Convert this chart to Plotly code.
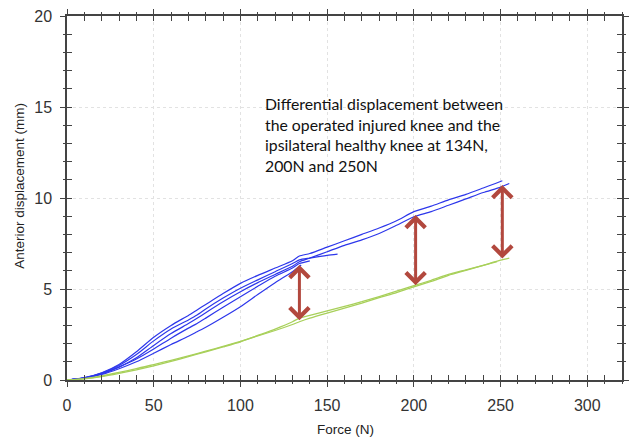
import plotly.graph_objects as go

# ---------------- data ----------------
# Blue curves: operated injured knee (several trials)
b1_force = [0, 10, 20, 30, 40, 50, 60, 70, 75, 80, 90, 100, 110, 120, 130, 134, 140, 150, 160, 170, 180, 190, 200, 210, 220, 230, 240, 247, 251]
b1_disp = [0, 0.13, 0.4, 0.85, 1.55, 2.35, 3.0, 3.55, 3.85, 4.15, 4.75, 5.31, 5.75, 6.15, 6.55, 6.81, 6.95, 7.3, 7.65, 8.0, 8.35, 8.75, 9.25, 9.55, 9.9, 10.2, 10.55, 10.8, 10.95]

b2_force = [0, 10, 20, 30, 40, 50, 60, 70, 75, 80, 90, 100, 110, 120, 130, 134, 140, 150, 160, 170, 180, 190, 200, 210, 220, 230, 240, 250, 255]
b2_disp = [0, 0.1, 0.33, 0.7, 1.22, 1.9, 2.55, 3.1, 3.39, 3.7, 4.3, 4.85, 5.35, 5.8, 6.25, 6.5, 6.7, 7.05, 7.4, 7.7, 8.05, 8.5, 8.97, 9.25, 9.6, 9.95, 10.3, 10.6, 10.8]

b3_force = [0, 10, 20, 30, 40, 50, 60, 70, 75, 80, 90, 100, 110, 120, 130, 134, 140, 150, 156]
b3_disp = [0, 0.12, 0.38, 0.8, 1.4, 2.15, 2.8, 3.3, 3.57, 3.9, 4.5, 5.04, 5.5, 5.95, 6.4, 6.6, 6.7, 6.85, 6.92]

b4_force = [0, 10, 20, 30, 40, 50, 60, 70, 75, 80, 90, 100, 110, 120, 130, 134, 140]
b4_disp = [0, 0.11, 0.35, 0.72, 1.15, 1.7, 2.3, 2.85, 3.11, 3.4, 4.0, 4.58, 5.15, 5.7, 6.15, 6.4, 6.55]

b5_force = [0, 10, 20, 30, 40, 50, 60, 70, 75, 80, 90, 100, 110, 120, 130, 135]
b5_disp = [0, 0.1, 0.3, 0.62, 1.0, 1.47, 1.95, 2.4, 2.65, 2.9, 3.45, 4.03, 4.7, 5.35, 5.95, 6.32]

# Green curves: ipsilateral healthy knee
g1_force = [0, 10, 20, 30, 40, 50, 60, 70, 80, 90, 100, 110, 120, 130, 134, 140, 150, 160, 170, 180, 190, 200, 210, 220, 230, 240, 250, 255]
g1_disp = [0, 0.08, 0.22, 0.42, 0.62, 0.85, 1.08, 1.33, 1.58, 1.85, 2.12, 2.42, 2.72, 3.05, 3.2, 3.4, 3.68, 3.95, 4.22, 4.52, 4.8, 5.12, 5.42, 5.75, 6.02, 6.3, 6.58, 6.69]

g2_force = [0, 10, 20, 30, 40, 50, 60, 70, 80, 90, 100, 110, 120, 130, 134, 140, 150, 160, 170, 180, 190, 200, 210, 220, 230, 240, 248]
g2_disp = [0, 0.06, 0.18, 0.36, 0.56, 0.78, 1.02, 1.28, 1.55, 1.82, 2.1, 2.45, 2.8, 3.2, 3.4, 3.55, 3.8, 4.05, 4.3, 4.58, 4.88, 5.18, 5.48, 5.8, 6.05, 6.3, 6.5]

# Differential arrows (force, bottom displacement, top displacement)
arrow_force = [134, 201, 251]
arrow_low = [3.2, 5.13, 6.59]
arrow_high = [6.32, 9.07, 10.71]

x_ticks = [0, 50, 100, 150, 200, 250, 300]
y_ticks = [0, 5, 10, 15, 20]

x_title = "Force (N)"
y_title = "Anterior displacement (mm)"
note_text = ("Differential displacement between<br>the operated injured knee and the<br>"
             "ipsilateral healthy knee at 134N,<br>200N and 250N")

BLUE = "rgb(45,55,235)"
GREEN = "rgb(168,208,90)"
ARROW = "rgb(178,72,62)"
AXC = "#444"

fig = go.Figure()
for fx, dy in [(b1_force, b1_disp), (b2_force, b2_disp), (b3_force, b3_disp),
               (b4_force, b4_disp), (b5_force, b5_disp)]:
    fig.add_trace(go.Scatter(x=fx, y=dy, mode="lines", line=dict(color=BLUE, width=1.2, shape="spline", smoothing=0.6),
                             showlegend=False, hoverinfo="skip"))
for fx, dy in [(g1_force, g1_disp), (g2_force, g2_disp)]:
    fig.add_trace(go.Scatter(x=fx, y=dy, mode="lines", line=dict(color=GREEN, width=1.3, shape="spline", smoothing=0.6),
                             showlegend=False, hoverinfo="skip"))
# invisible trace so the overlay axes (inside tick marks) are drawn
fig.add_trace(go.Scatter(x=[0], y=[0], xaxis="x2", yaxis="y2", mode="markers",
                         marker=dict(opacity=0), showlegend=False, hoverinfo="skip"))

for f, lo, hi in zip(arrow_force, arrow_low, arrow_high):
    fig.add_annotation(x=f, y=hi, ax=f, ay=lo, xref="x", yref="y", axref="x", ayref="y",
                       text="", showarrow=True, arrowhead=4, arrowside="end+start",
                       arrowsize=1.25, arrowwidth=3, arrowcolor=ARROW)

fig.add_annotation(x=113, y=15.85, xref="x", yref="y", xanchor="left", yanchor="top",
                   text=note_text, showarrow=False, align="left",
                   font=dict(family="Lato", size=15.8, color="#111"))

# axis titles
fig.add_annotation(x=0.501, y=-0.137, xref="paper", yref="paper", xanchor="center", yanchor="middle",
                   text=x_title, showarrow=False,
                   font=dict(family="Liberation Sans", size=13.5, color="#222"))
fig.add_annotation(x=-0.085, y=0.533, xref="paper", yref="paper", xanchor="center", yanchor="middle",
                   text=y_title, showarrow=False, textangle=-90,
                   font=dict(family="Liberation Sans", size=13.5, color="#222"))

axis_common = dict(showline=True, linecolor=AXC, linewidth=1.5, mirror="allticks",
                   ticks="outside", ticklen=5, tickwidth=1.2, tickcolor=AXC,
                   showgrid=True, gridcolor="#e2e2e2", griddash="dot", gridwidth=1,
                   zeroline=False, automargin=False,
                   tickfont=dict(family="Liberation Sans", size=16, color="#333"))

fig.update_xaxes(range=[0, 320], tickvals=x_ticks, ticktext=[str(v) for v in x_ticks],
                 minor=dict(dtick=10, tick0=0, ticks="outside", ticklen=2, tickcolor=AXC, showgrid=False),
                 ticklabelstandoff=5, **axis_common)
fig.update_yaxes(range=[0, 20], tickvals=y_ticks, ticktext=[str(v) for v in y_ticks],
                 minor=dict(dtick=1, tick0=0, ticks="outside", ticklen=2, tickcolor=AXC, showgrid=False),
                 ticklabelstandoff=5, **axis_common)

overlay_common = dict(showline=False, showgrid=False, zeroline=False, showticklabels=False,
                      ticks="inside", ticklen=5, tickwidth=1.2, tickcolor=AXC, mirror="allticks")
fig.update_layout(
    xaxis2=dict(overlaying="x", range=[0, 320], tickvals=x_ticks,
                minor=dict(dtick=10, tick0=0, ticks="inside", ticklen=5, tickcolor=AXC),
                **overlay_common),
    yaxis2=dict(overlaying="y", range=[0, 20], tickvals=y_ticks,
                minor=dict(dtick=1, tick0=0, ticks="inside", ticklen=5, tickcolor=AXC),
                **overlay_common),
)

fig.update_layout(width=629, height=442, margin=dict(l=67, r=7, t=16, b=62),
                  plot_bgcolor="white", paper_bgcolor="white")

fig.write_html("out.html", config={"displayModeBar": False},
               post_script="document.body.style.margin='0';")
